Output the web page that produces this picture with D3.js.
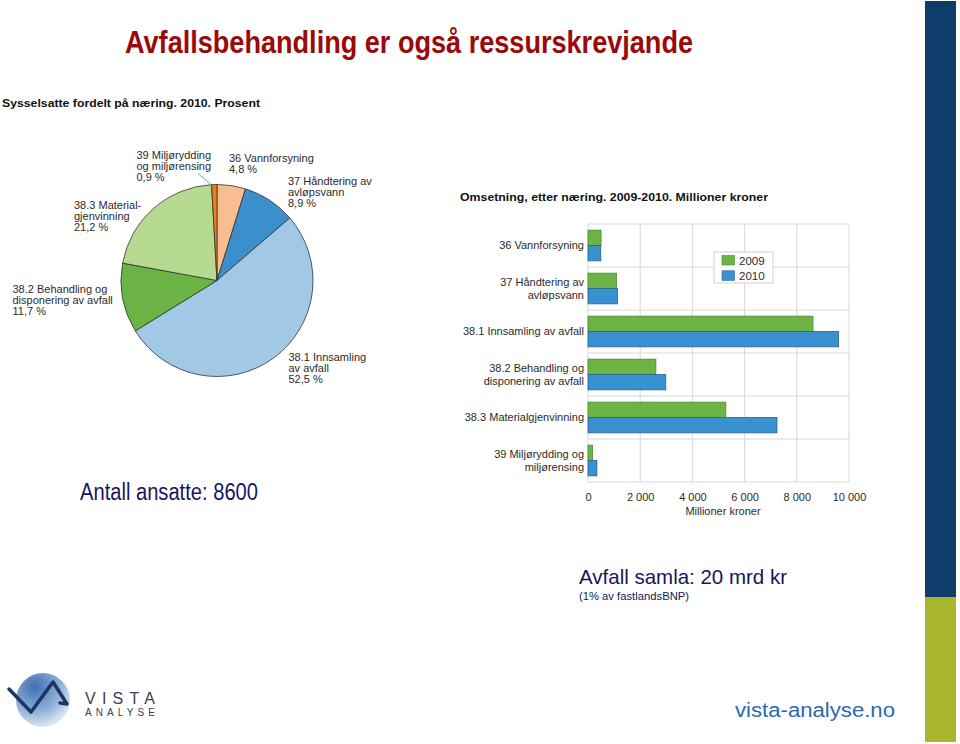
<!DOCTYPE html>
<html>
<head>
<meta charset="utf-8">
<script src="https://cdn.jsdelivr.net/npm/d3@7/dist/d3.min.js"></script>
<style>
  html, body { margin: 0; padding: 0; background: #fff; }
  svg { display: block; }
  text { font-family: "Liberation Sans", Arial, sans-serif; }
</style>
</head>
<body>
<svg id="chart" width="960" height="744"></svg>
<script>
// ---------- DATA ----------
const pieCategories = ["36", "37", "38.1", "38.2", "38.3", "39"];
const pieValues = [4.8, 8.9, 52.5, 11.7, 21.2, 0.9];
const pieLabels = [
  ["36 Vannforsyning", "4,8 %"],
  ["37 Håndtering av", "avløpsvann", "8,9 %"],
  ["38.1 Innsamling", "av avfall", "52,5 %"],
  ["38.2 Behandling og", "disponering av avfall", "11,7 %"],
  ["38.3 Material-", "gjenvinning", "21,2 %"],
  ["39 Miljørydding", "og miljørensing", "0,9 %"]
];

const barCategories = [
  ["36 Vannforsyning"],
  ["37 Håndtering av", "avløpsvann"],
  ["38.1 Innsamling av avfall"],
  ["38.2 Behandling og", "disponering av avfall"],
  ["38.3 Materialgjenvinning"],
  ["39 Miljørydding og", "miljørensing"]
];
const seriesNames = ["2009", "2010"];
const values2009 = [500, 1090, 8620, 2600, 5280, 170];
const values2010 = [490, 1130, 9600, 2980, 7240, 340];
const xTicks = [0, 2000, 4000, 6000, 8000, 10000];

// ---------- STYLES ----------
const pieColors = ["#f9be8f", "#3b8fcb", "#a1c9e6", "#6cb345", "#b7da91", "#ef7d1d"];
const barFill = { "2009": "#6db446", "2010": "#3a91d0" };
const barStroke = { "2009": "#4b8a2c", "2010": "#25628f" };
const textDark = "#2b2b2b";
const navy = "#16165e";

const svg = d3.select("#chart");

// Right side bar
svg.append("rect").attr("x", 925).attr("y", 1).attr("width", 31).attr("height", 596).attr("fill", "#0e3d6c");
svg.append("rect").attr("x", 925).attr("y", 597).attr("width", 31).attr("height", 145).attr("fill", "#a9b52b");

// Main title
svg.append("text")
  .attr("x", 125).attr("y", 53)
  .attr("font-size", 31).attr("font-weight", "bold")
  .attr("fill", "#9a0a0a")
  .attr("textLength", 568).attr("lengthAdjust", "spacingAndGlyphs")
  .text("Avfallsbehandling er også ressurskrevjande");

// ---------- PIE ----------
const cx = 217, cy = 280.5, r = 96;
const pieG = svg.append("g").attr("transform", `translate(${cx},${cy})`);
const pie = d3.pie().sort(null).value(d => d)(pieValues);
const arc = d3.arc().innerRadius(0).outerRadius(r);
pieG.selectAll("path").data(pie).join("path")
  .attr("d", arc)
  .attr("fill", (d, i) => pieColors[i])
  .attr("stroke", "#333")
  .attr("stroke-width", 0.8);

svg.append("text")
  .attr("x", 2).attr("y", 107)
  .attr("font-size", 11.5).attr("font-weight", "bold").attr("fill", "#111")
  .attr("textLength", 258).attr("lengthAdjust", "spacingAndGlyphs")
  .text("Sysselsatte fordelt på næring. 2010. Prosent");

// label anchor positions (relative to pie center)
const pieLabelPos = [
  [12, -119],   // 36
  [71, -95.5],  // 37
  [71.5, 80],   // 38.1
  [-204.5, 12], // 38.2
  [-143, -71.5],// 38.3
  [-80.5, -122] // 39
];
const lineH = 11;
pieLabels.forEach((lines, i) => {
  const t = svg.append("text")
    .attr("x", cx + pieLabelPos[i][0]).attr("y", cy + pieLabelPos[i][1])
    .attr("font-size", 11).attr("fill", textDark);
  lines.forEach((ln, j) => {
    t.append("tspan").attr("x", cx + pieLabelPos[i][0]).attr("dy", j === 0 ? 0 : lineH).text(ln);
  });
});
// leader line for 39
const outerArc = d3.arc().innerRadius(r).outerRadius(r);
const c39 = outerArc.centroid(pie[5]);
svg.append("line")
  .attr("x1", 198).attr("y1", 173.5)
  .attr("x2", cx + c39[0] - 2).attr("y2", cy + c39[1] + 1)
  .attr("stroke", "#777").attr("stroke-width", 0.8);

// ---------- BAR CHART ----------
const x = d3.scaleLinear().domain([0, 10000]).range([588, 849]);
const y = d3.scaleBand().domain(d3.range(barCategories.length)).range([224, 482]).paddingInner(0).paddingOuter(0);
const ySub = d3.scaleBand().domain(seriesNames).range([0, y.bandwidth()]).paddingInner(0).paddingOuter(0.4);

svg.append("text")
  .attr("x", 460).attr("y", 201)
  .attr("font-size", 11.5).attr("font-weight", "bold").attr("fill", "#111")
  .attr("textLength", 308).attr("lengthAdjust", "spacingAndGlyphs")
  .text("Omsetning, etter næring. 2009-2010. Millioner kroner");

const grid = svg.append("g");
grid.selectAll("line.v").data(xTicks).join("line")
  .attr("class", "v")
  .attr("x1", d => x(d)).attr("x2", d => x(d))
  .attr("y1", y.range()[0]).attr("y2", y.range()[1])
  .attr("stroke", "#d8d8d8").attr("stroke-width", 1);
const bounds = d3.range(barCategories.length + 1).map(i => y.range()[0] + i * y.step());
grid.selectAll("line.h").data(bounds).join("line")
  .attr("class", "h")
  .attr("x1", x(0)).attr("x2", x(10000))
  .attr("y1", d => d).attr("y2", d => d)
  .attr("stroke", "#d8d8d8").attr("stroke-width", 1);

const seriesData = { "2009": values2009, "2010": values2010 };
seriesNames.forEach(s => {
  svg.append("g").selectAll("rect").data(seriesData[s]).join("rect")
    .attr("x", x(0))
    .attr("y", (d, i) => y(i) + ySub(s))
    .attr("width", d => x(d) - x(0))
    .attr("height", ySub.bandwidth())
    .attr("fill", barFill[s])
    .attr("stroke", barStroke[s])
    .attr("stroke-width", 0.8);
});

// category labels
barCategories.forEach((lines, i) => {
  const cyB = y(i) + y.bandwidth() / 2 + 3.8;
  const lh = 13.3;
  const start = cyB - (lines.length - 1) * lh / 2;
  const t = svg.append("text")
    .attr("text-anchor", "end")
    .attr("font-size", 11).attr("fill", textDark);
  lines.forEach((ln, j) => {
    t.append("tspan").attr("x", 584).attr("y", start + j * lh).text(ln);
  });
});

// x axis
const fmt = d => d3.format(",")(d).replace(/,/g, "\u00a0");
const xAxis = d3.axisBottom(x).tickValues(xTicks).tickFormat(fmt).tickSize(0).tickPadding(0);
const axG = svg.append("g").attr("transform", `translate(0,${y.range()[1]})`).call(xAxis);
axG.select(".domain").remove();
axG.selectAll("text")
  .attr("font-family", "'Liberation Sans', Arial, sans-serif")
  .attr("font-size", 11).attr("fill", textDark)
  .attr("dy", 0).attr("y", 18.5);
svg.append("text")
  .attr("x", 723).attr("y", 515).attr("text-anchor", "middle")
  .attr("font-size", 11).attr("fill", textDark)
  .text("Millioner kroner");

// legend
const lg = svg.append("g");
lg.append("rect").attr("x", 714).attr("y", 252).attr("width", 59).attr("height", 31)
  .attr("fill", "#fff").attr("stroke", "#d0d0d0").attr("stroke-width", 1);
seriesNames.forEach((s, i) => {
  lg.append("rect").attr("x", 722).attr("y", 255.5 + i * 15.3).attr("width", 12.5).attr("height", 9.5)
    .attr("fill", barFill[s]).attr("stroke", barStroke[s]).attr("stroke-width", 0.6);
  lg.append("text").attr("x", 739).attr("y", 264.5 + i * 15.3)
    .attr("font-size", 11.5).attr("fill", textDark).text(s);
});

// ---------- Annotations ----------
svg.append("text")
  .attr("x", 80).attr("y", 499.5)
  .attr("font-size", 23).attr("fill", navy)
  .attr("textLength", 178).attr("lengthAdjust", "spacingAndGlyphs")
  .text("Antall ansatte: 8600");
svg.append("text")
  .attr("x", 579).attr("y", 584)
  .attr("font-size", 21).attr("fill", navy)
  .attr("textLength", 208).attr("lengthAdjust", "spacingAndGlyphs")
  .text("Avfall samla: 20 mrd kr");
svg.append("text")
  .attr("x", 579).attr("y", 600)
  .attr("font-size", 11.5).attr("fill", navy)
  .attr("textLength", 110).attr("lengthAdjust", "spacingAndGlyphs")
  .text("(1% av fastlandsBNP)");

svg.append("text")
  .attr("x", 735).attr("y", 717)
  .attr("font-size", 20).attr("fill", "#2a69ae")
  .attr("font-family", "'Open Sans', sans-serif")
  .attr("textLength", 160).attr("lengthAdjust", "spacingAndGlyphs")
  .text("vista-analyse.no");

// ---------- Logo ----------
const defs = svg.append("defs");
const grad = defs.append("radialGradient").attr("id", "lg1")
  .attr("cx", "35%").attr("cy", "25%").attr("r", "85%");
grad.append("stop").attr("offset", "0%").attr("stop-color", "#3f70b0");
grad.append("stop").attr("offset", "55%").attr("stop-color", "#8fb0d8");
grad.append("stop").attr("offset", "100%").attr("stop-color", "#f4f7fb");
svg.append("circle").attr("cx", 43).attr("cy", 700).attr("r", 27).attr("fill", "url(#lg1)");
svg.append("path")
  .attr("d", d3.line()([[9, 689], [31, 712], [53, 682], [67, 704], [60, 703]]))
  .attr("fill", "none").attr("stroke", "#1d3566").attr("stroke-width", 3.5)
  .attr("stroke-linejoin", "round").attr("stroke-linecap", "round");
svg.append("text").attr("x", 85).attr("y", 704)
  .attr("font-size", 16).attr("fill", "#3a3e52")
  .attr("font-family", "'DejaVu Sans', sans-serif")
  .attr("textLength", 70).attr("lengthAdjust", "spacing")
  .text("VISTA");
svg.append("text").attr("x", 85).attr("y", 716)
  .attr("font-size", 10).attr("fill", "#3a3e52")
  .attr("font-family", "'DejaVu Sans', sans-serif")
  .attr("textLength", 70).attr("lengthAdjust", "spacing")
  .text("ANALYSE");
</script>
</body>
</html>
